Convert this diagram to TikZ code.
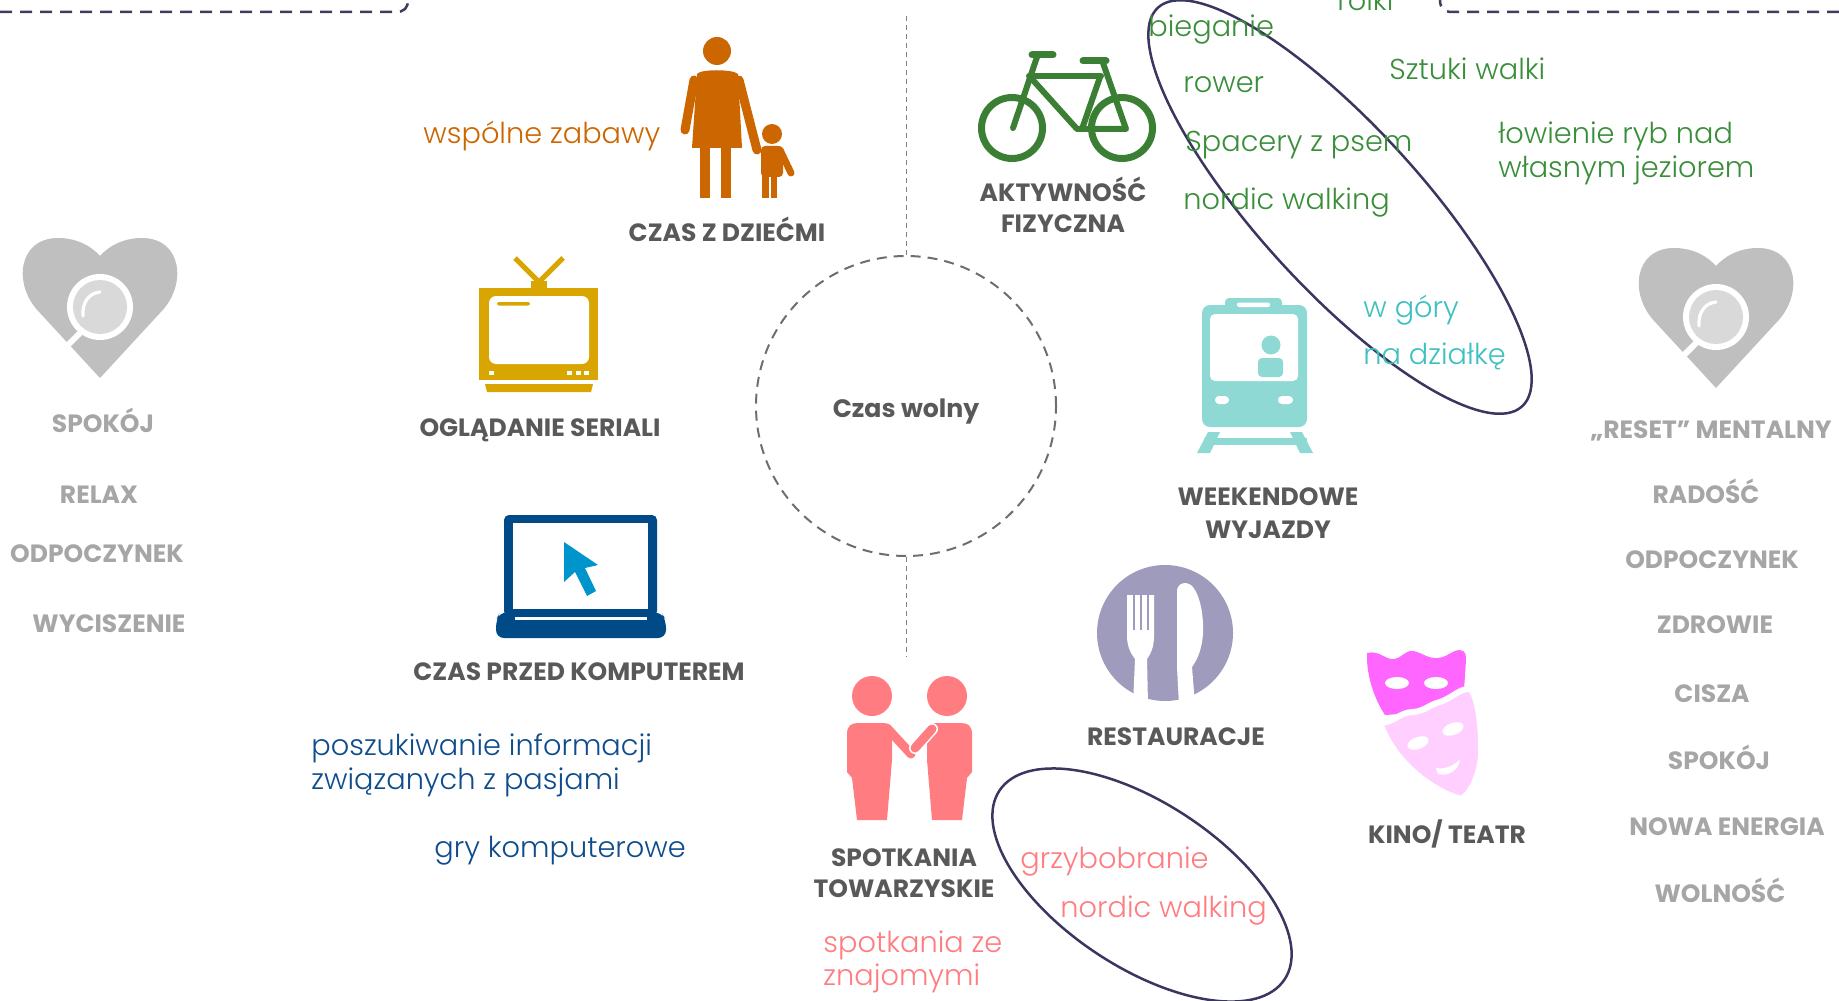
\documentclass[tikz,border=0pt]{standalone}
\usepackage{fontspec}
\setmainfont{Poppins}
\newfontfamily\litefont{Poppins}[UprightFont=* Light]
\definecolor{labgray}{HTML}{595959}
\definecolor{sidegray}{HTML}{A6A6A6}
\definecolor{momc}{HTML}{CC6600}
\definecolor{greentxt}{HTML}{3A8E3A}
\definecolor{bikec}{HTML}{3A7F33}
\definecolor{tealtxt}{HTML}{3EC0C0}
\definecolor{trainc}{HTML}{8FD9D5}
\definecolor{bluetxt}{HTML}{0F4C8C}
\definecolor{lapc}{HTML}{004B87}
\definecolor{cursorc}{HTML}{0094CC}
\definecolor{pinkc}{HTML}{FF7C80}
\definecolor{platec}{HTML}{9F9BBD}
\definecolor{maskd}{HTML}{FF66FF}
\definecolor{maskl}{HTML}{FFD0FF}
\definecolor{navyc}{HTML}{3B3660}
\definecolor{dashnavy}{HTML}{3F3D60}
\definecolor{circgray}{HTML}{6E6E6E}
\definecolor{heartc}{HTML}{BFBFBF}
\definecolor{heartin}{HTML}{D9D9D9}
\definecolor{tvc}{HTML}{D9A500}
\tikzset{
  lab/.style={font=\bfseries\fontsize{12.5}{14}\selectfont, text=labgray, inner sep=0pt, anchor=base},
  side/.style={lab, text=sidegray},
  lite/.style={font=\litefont\fontsize{14.4}{16}\selectfont, inner sep=0pt, anchor=base west},
  ell/.style={draw=navyc, line width=1.25pt},
  topdash/.style={draw=dashnavy, line width=1.25pt, dash pattern=on 6pt off 4pt},
  thindash/.style={draw=gray, line width=0.5pt, dash pattern=on 2.5pt off 2pt},
  heartpic/.pic={
    \fill[heartc] (0,125) -- (-60,60) .. controls (-88,32) and (-82,-15) .. (-42,-15)
      .. controls (-22,-15) and (-8,-6) .. (0,3) .. controls (8,-6) and (22,-15) .. (42,-15)
      .. controls (82,-15) and (88,32) .. (60,60) -- cycle;
    \draw[white, line width=3pt] (-18,78) -- (-58,118);
    \fill[white] (0,54) circle (33);
    \fill[heartin] (0,54) circle (27);
    \draw[white, line width=1.6pt, line cap=round] (-17,63) .. controls (-18,48) and (-10,40) .. (0,39);
  }
}
\begin{document}
\begin{tikzpicture}[x=0.5pt,y=-0.5pt]
\useasboundingbox (0,0) rectangle (1839,1000);

% top dashed frame lines
\coordinate (tlA) at (0,12);
\coordinate (tlB) at (408,0);
\coordinate (trA) at (1839,12);
\coordinate (trB) at (1440,0);
\draw[topdash] (tlA) -- (396,12) .. controls (404,12) and (408,8) .. (tlB);
\draw[topdash] (trA) -- (1452,12) .. controls (1444,12) and (1440,8) .. (trB);

% central circle
\node[circle, draw=circgray, line width=1pt, dash pattern=on 5pt off 3.5pt, minimum size=150pt, inner sep=0pt] (cz) at (906,406) {};
\node[lab, font=\bfseries\fontsize{12.6}{14}\selectfont] (czt) at (906,417) {Czas wolny};
\coordinate (vtop) at (906,15);
\coordinate (vbot) at (906,657);
\draw[thindash] (cz.north) -- (vtop);
\draw[thindash] (cz.south) -- (vbot);

% ellipses
\draw[ell, rotate around={-47.6:(1340,207)}] (1340,207) ellipse [x radius=270, y radius=81];
\draw[ell, rotate around={-33.5:(1142,885)}] (1142,885) ellipse [x radius=171, y radius=82];

% hearts
\pic (heartL) at (100,253) {heartpic};
\pic (heartR) at (1716,263) {heartpic};

% mother and child
\fill[momc] (717,51) circle (14);
\fill[momc] (697,74) .. controls (700,69) and (733,69) .. (738,74) -- (742,148) -- (692,148) -- cycle;
\draw[momc, line width=4.5pt, line cap=round] (694,80) -- (685,130);
\draw[momc, line width=4.5pt, line cap=round] (739,80) -- (757,150);
\fill[momc] (700,145) rectangle (710,198);
\fill[momc] (721,145) rectangle (731,198);
\fill[momc] (772,134) circle (10);
\fill[momc, rounded corners=2pt] (761,146) rectangle (783,177);
\fill[momc] (762,174) rectangle (768.5,198);
\fill[momc] (770.5,174) rectangle (777,198);
\draw[momc, line width=3.5pt, line cap=round] (780,150) -- (791,173);

% TV
\draw[tvc, line width=2.5pt] (515,258) -- (539,282) -- (563,258);
\fill[tvc] (531,281) rectangle (547,288);
\fill[tvc] (479,288) rectangle (598,380);
\fill[white, rounded corners=3.5pt] (489,296) rectangle (589,364);
\fill[tvc, rounded corners=1pt] (497,302) rectangle (530,305.5);
\fill[white] (489,371) rectangle (494,374.5);
\fill[white] (567,371) rectangle (572,374.5);
\fill[white] (576,371) rectangle (581,374.5);
\fill[white] (584,371) rectangle (589,374.5);
\fill[tvc] (485,384) -- (593,384) -- (591,392) -- (487,392) -- cycle;

% laptop
\fill[lapc, rounded corners=2.5pt] (504,515) rectangle (657,616);
\fill[white] (513,523) rectangle (648,609);
\fill[lapc, rounded corners=4pt] (500,612) -- (661,612) -- (666,620) -- (666,638) -- (496,638) -- (496,620) -- cycle;
\fill[white] (515,616.5) rectangle (647,619.5);
\fill[cursorc] (564,542) -- (564,582) -- (575,572) -- (587,596) -- (596,591) -- (585,568) -- (598,565) -- cycle;

% bike
\begin{scope}[draw=bikec, line cap=round, line join=round]
\draw[line width=3.5pt] (1012,128) circle (30.5);
\draw[line width=3.5pt] (1122,128) circle (30.5);
\draw[line width=3pt] (1037,57) -- (1013,128);
\draw[line width=3.5pt] (1032,55) -- (1053,55);
\draw[line width=3pt] (1029,76) -- (1101,76);
\draw[line width=3pt] (1031,78) -- (1077,129) -- (1126,129) -- (1103,63);
\draw[line width=3pt] (1100,77) -- (1082,129);
\draw[line width=3.5pt] (1083,61) -- (1106,61);
\end{scope}

% train
\fill[trainc, rounded corners=4pt] (1202,305) rectangle (1307,427);
\fill[trainc, rounded corners=2pt] (1225,298) rectangle (1282,310);
\fill[white, rounded corners=1pt] (1237,302.5) rectangle (1270,307);
\fill[white, rounded corners=2.5pt] (1210,314) rectangle (1298,381);
\fill[trainc] (1271,345) circle (9.5);
\fill[trainc, rounded corners=2pt] (1258,358) rectangle (1283,377);
\fill[white, rounded corners=2pt] (1215,396) rectangle (1229,404);
\fill[white, rounded corners=2pt] (1278,396) rectangle (1293,404);
\fill[trainc] (1208,432) -- (1220,432) -- (1210,453) -- (1197,453) -- cycle;
\fill[trainc] (1290,432) -- (1302,432) -- (1313,453) -- (1300,453) -- cycle;
\fill[trainc] (1204,438) rectangle (1307,445);

% restaurant
\fill[platec] (1165,633) circle (68);
\fill[white] (1127,595) -- (1127,636) .. controls (1127,648) and (1132,655) .. (1135,659) -- (1133,705) -- (1148,705) -- (1147,659) .. controls (1150,655) and (1154,648) .. (1154,636) -- (1154,595) -- cycle;
\foreach \gx in {1133.5,1140.5,1147.5} \fill[platec] (\gx-1,593) rectangle (\gx+1,630);
\fill[white] (1177,667) -- (1177,592) .. controls (1177,585) and (1181,583) .. (1186,583) .. controls (1198,584) and (1204,612) .. (1203,633) .. controls (1202,650) and (1197,660) .. (1192,667) -- (1195,705) -- (1179,705) -- cycle;

% masks
\fill[maskd] (1367,653) .. controls (1380,650) and (1385,660) .. (1394,659) .. controls (1402,658) and (1405,650) .. (1413,651) .. controls (1421,652) and (1428,659) .. (1438,658) .. controls (1448,657) and (1452,650) .. (1460,650) .. controls (1466,651) and (1466,655) .. (1466,660) -- (1464,690) -- (1430,712) -- (1385,715) .. controls (1375,700) and (1368,680) .. (1367,660) -- cycle;
\fill[white] (1397,683) ellipse [x radius=12, y radius=6];
\fill[white] (1436,683) ellipse [x radius=12, y radius=6];
\filldraw[fill=maskl, draw=white, line width=3pt] (1380,723) .. controls (1395,722) and (1400,712) .. (1413,712) .. controls (1425,711) and (1428,705) .. (1440,702) .. controls (1452,698) and (1460,688) .. (1470,689) .. controls (1478,695) and (1482,730) .. (1481,755) .. controls (1480,775) and (1470,795) .. (1461,799) .. controls (1435,792) and (1395,765) .. (1380,723) -- cycle;
\fill[white, rotate around={20:(1418,743)}] (1418,743) ellipse [x radius=11, y radius=6];
\fill[white, rotate around={20:(1453,729)}] (1453,729) ellipse [x radius=11, y radius=6];
\fill[white] (1436,768) .. controls (1445,770) and (1455,765) .. (1460,759) .. controls (1459,770) and (1448,777) .. (1438,774) -- cycle;

% people
\fill[pinkc] (872,696) circle (20);
\fill[pinkc] (947,696) circle (20);
\fill[pinkc] (847,734) .. controls (847,726) and (851,723) .. (858,723) -- (884,723) .. controls (889,723) and (892,727) .. (892,733) -- (892,760) -- (887,820) -- (857,820) -- (852,778) -- (847,772) -- cycle;
\draw[pinkc, line width=4.5pt, line cap=round] (887,728) -- (911,754);
\fill[pinkc] (972,734) .. controls (972,726) and (968,723) .. (961,723) -- (935,723) .. controls (930,723) and (927,727) .. (927,733) -- (927,760) -- (932,820) -- (962,820) -- (967,778) -- (972,772) -- cycle;
\draw[white, line width=6pt, line cap=round] (932,729) -- (915,748);
\draw[pinkc, line width=4.5pt, line cap=round] (932,729) -- (915,748);

% bold labels
\node[lab] (l1) at (727,242) {CZAS Z DZIEĆMI};
\node[lab] (l2) at (540,436) {OGLĄDANIE SERIALI};
\node[lab] (l3) at (579,680) {CZAS PRZED KOMPUTEREM};
\node[lab] (l4a) at (1063,202) {AKTYWNOŚĆ};
\node[lab] (l4b) at (1063,233) {FIZYCZNA};
\node[lab] (l5a) at (1268,505) {WEEKENDOWE};
\node[lab] (l5b) at (1268,538) {WYJAZDY};
\node[lab] (l6) at (1176,745) {RESTAURACJE};
\node[lab] (l7) at (1447,843) {KINO/ TEATR};
\node[lab] (l8a) at (904,866) {SPOTKANIA};
\node[lab] (l8b) at (904,897) {TOWARZYSKIE};

% left side values
\node[side] (s1) at (103,432) {SPOKÓJ};
\node[side] (s2) at (99,503) {RELAX};
\node[side] (s3) at (97,562) {ODPOCZYNEK};
\node[side] (s4) at (109,632) {WYCISZENIE};

% right side values
\node[side] (r1) at (1711,438) {„RESET” MENTALNY};
\node[side] (r2) at (1706,503) {RADOŚĆ};
\node[side] (r3) at (1712,568) {ODPOCZYNEK};
\node[side] (r4) at (1715,633) {ZDROWIE};
\node[side] (r5) at (1712,702) {CISZA};
\node[side] (r6) at (1719,769) {SPOKÓJ};
\node[side] (r7) at (1727,835) {NOWA ENERGIA};
\node[side] (r8) at (1720,902) {WOLNOŚĆ};

% light texts
\node[lite, text=momc] (t1) at (423,144) {wspólne zabawy};
\node[lite, text=greentxt] (g0) at (1337,11) {rolki};
\node[lite, text=greentxt] (g1) at (1148,37) {bieganie};
\node[lite, text=greentxt] (g2) at (1183,93) {rower};
\node[lite, text=greentxt] (g3) at (1389,80) {Sztuki walki};
\node[lite, text=greentxt] (g4) at (1185,152) {Spacery z psem};
\node[lite, text=greentxt] (g5a) at (1498,144) {łowienie ryb nad};
\node[lite, text=greentxt] (g5b) at (1498,178) {własnym jeziorem};
\node[lite, text=greentxt] (g6) at (1183,210) {nordic walking};
\node[lite, text=tealtxt] (w1) at (1363,317) {w góry};
\node[lite, text=tealtxt] (w2) at (1363,364) {na działkę};
\node[lite, text=bluetxt] (b1a) at (311,755) {poszukiwanie informacji};
\node[lite, text=bluetxt] (b1b) at (311,789) {związanych z pasjami};
\node[lite, text=bluetxt] (b2) at (434,857) {gry komputerowe};
\node[lite, text=pinkc] (p1) at (1020,868) {grzybobranie};
\node[lite, text=pinkc] (p2) at (1060,917) {nordic walking};
\node[lite, text=pinkc] (p3a) at (823,952) {spotkania ze};
\node[lite, text=pinkc] (p3b) at (823,985) {znajomymi};
\end{tikzpicture}
\end{document}
